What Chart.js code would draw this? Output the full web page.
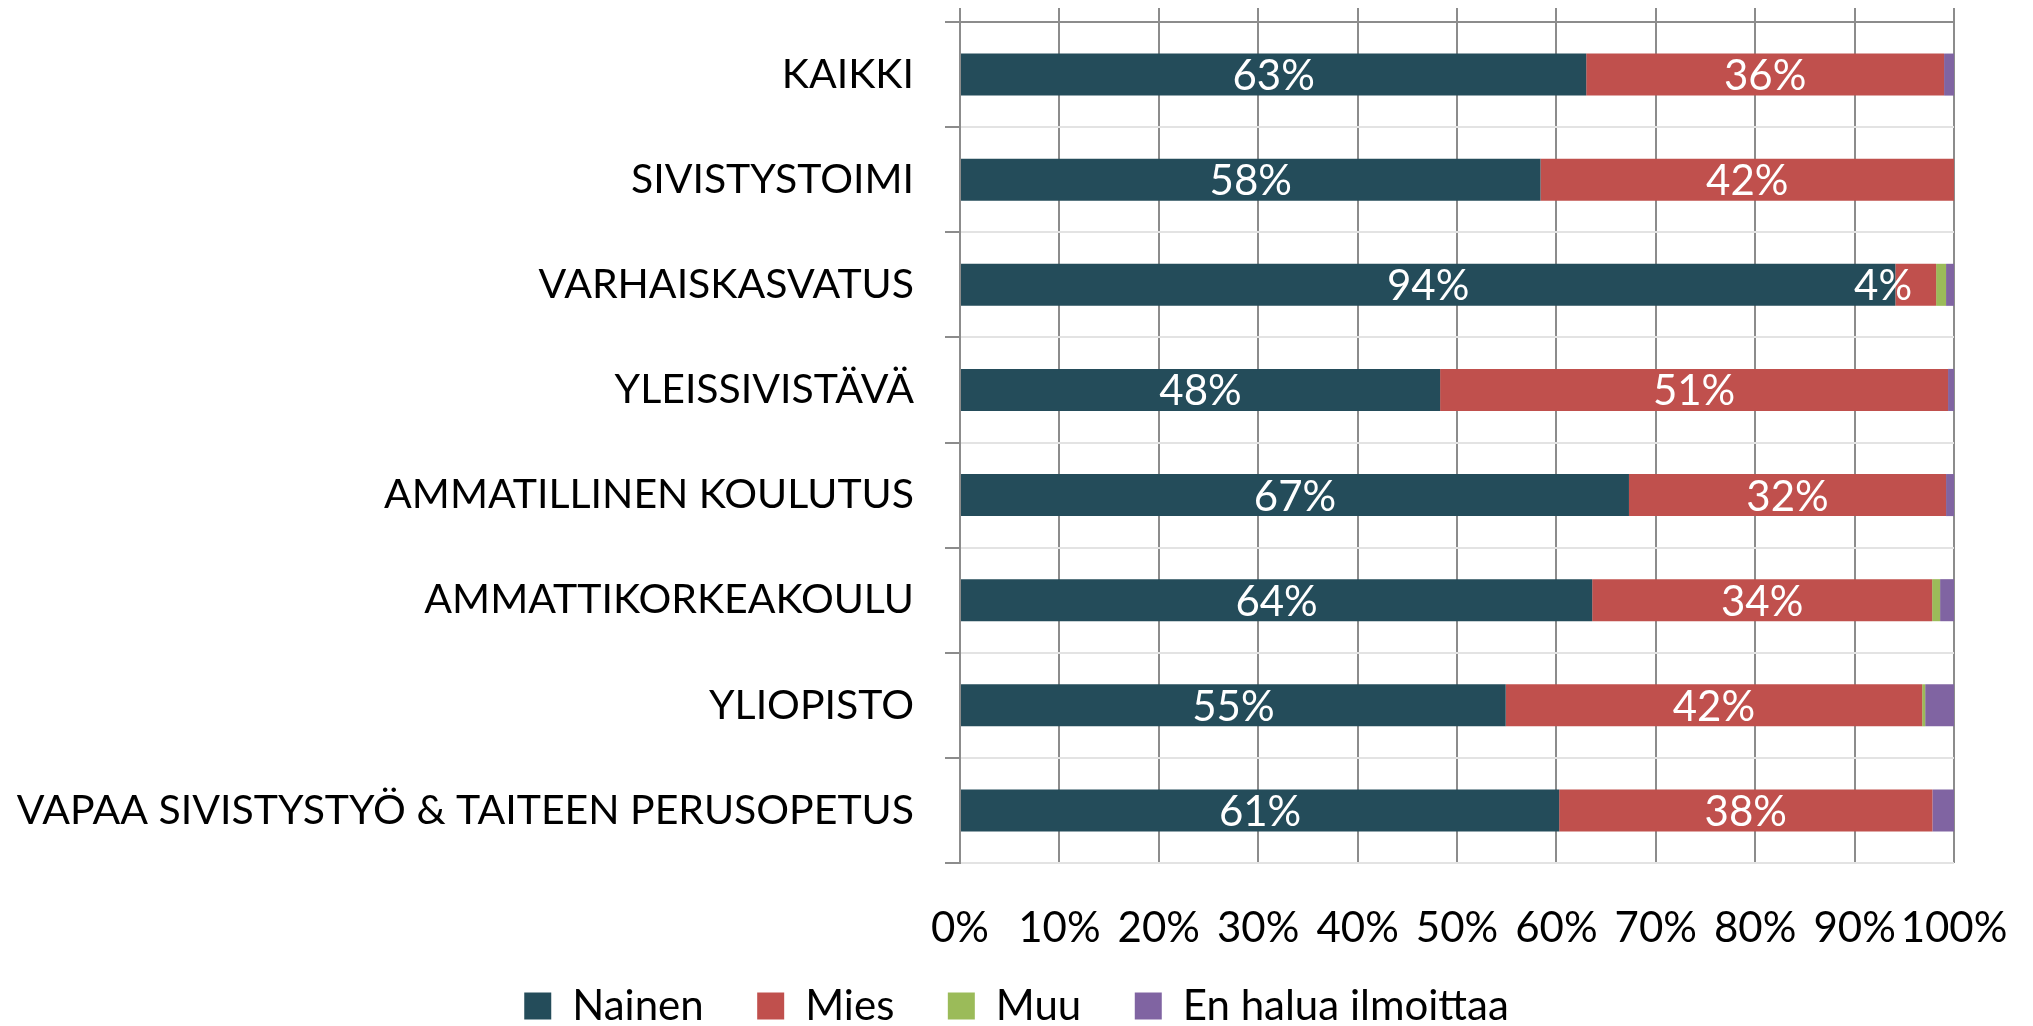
<!DOCTYPE html>
<html>
<head>
<meta charset="utf-8">
<script src="https://cdn.jsdelivr.net/npm/chart.js@4.4.1/dist/chart.umd.min.js"></script>
<style>
  html, body { margin: 0; padding: 0; background: #fff; }
  #wrap { width: 2033px; height: 1026px; }
</style>
</head>
<body>
<div id="wrap"><canvas id="chart" width="2033" height="1026"></canvas></div>
<script>
const categories = [
    'KAIKKI',
    'SIVISTYSTOIMI',
    'VARHAISKASVATUS',
    'YLEISSIVISTÄVÄ',
    'AMMATILLINEN KOULUTUS',
    'AMMATTIKORKEAKOULU',
    'YLIOPISTO',
    'VAPAA SIVISTYSTYÖ & TAITEEN PERUSOPETUS',
];
const seriesNames = ['Nainen', 'Mies', 'Muu', 'En halua ilmoittaa'];
const nainen = [63.0, 58.4, 94.1, 48.3, 67.3, 63.6, 54.9, 61.0];
const mies = [36.0, 41.6, 4.1, 51.1, 31.9, 34.2, 41.9, 38.0];
const muu = [0, 0, 1.0, 0, 0, 0.8, 0.3, 0];
const enHalua = [1.0, 0, 0.8, 0.6, 0.8, 1.4, 2.9, 2.2];
const tickValues = [0, 10, 20, 30, 40, 50, 60, 70, 80, 90, 100];

const colors = ['#244C5A', '#C0504D', '#9BBB59', '#8064A2'];
const FONT = 'Lato, "Open Sans", sans-serif';
const GRID_DARK = '#8c8c8c';
const GRID_LIGHT = '#e3e3e3';

// 100% stacked, like the original: each row is shown as share of its total
const series = [nainen, mies, muu, enHalua];
const rowTotals = categories.map((c, i) => series.reduce((s, arr) => s + arr[i], 0));

const datasets = series.map((arr, k) => ({
    label: seriesNames[k],
    data: arr.map((v, i) => (v / rowTotals[i]) * 100),
    rawValues: arr,
    backgroundColor: colors[k],
    borderWidth: 0,
    categoryPercentage: 1,
    barPercentage: 0.4,
}));

const barLabels = {
    id: 'barLabels',
    afterDatasetsDraw(chart) {
        const { ctx } = chart;
        ctx.save();
        ctx.font = '42px ' + FONT;
        ctx.fillStyle = '#ffffff';
        ctx.textAlign = 'center';
        ctx.textBaseline = 'middle';
        [0, 1].forEach((di) => {
            const meta = chart.getDatasetMeta(di);
            const ds = chart.data.datasets[di];
            meta.data.forEach((bar, i) => {
                const raw = ds.rawValues[i];
                if (raw < 3) return;
                const text = Math.round(raw) + '%';
                const w = ctx.measureText(text).width;
                let cx = (bar.x + bar.base) / 2;
                // too narrow segment: pull the label back towards the bar start
                if (w > Math.abs(bar.x - bar.base)) cx = bar.x - 24 - w / 2;
                ctx.fillText(text, cx, bar.y + 2);
            });
        });
        ctx.restore();
    },
};

const legendLabels = (chart) => {
    const items = Chart.defaults.plugins.legend.labels.generateLabels(chart);
    return items.map((it, i) => (i < items.length - 1 ? { ...it, text: it.text + '  ' } : it));
};

new Chart(document.getElementById('chart'), {
    type: 'bar',
    data: { labels: categories, datasets },
    plugins: [barLabels],
    options: {
        indexAxis: 'y',
        responsive: false,
        animation: false,
        layout: { padding: { top: 8, left: 0, right: 0, bottom: -11 } },
        scales: {
            x: {
                stacked: true,
                min: 0,
                max: 100,
                afterBuildTicks: (scale) => {
                    scale.ticks = tickValues.map((v) => ({ value: v }));
                },
                afterFit: (scale) => {
                    scale.height = 90;
                    scale.paddingLeft = 0;
                    scale.paddingRight = 0;
                },
                grid: { color: GRID_DARK, lineWidth: 2, drawTicks: false },
                border: { display: false },
                ticks: {
                    padding: 40,
                    color: '#000',
                    font: { family: FONT, size: 42 },
                    maxRotation: 0,
                    autoSkip: false,
                    callback: (v) => v + '%',
                },
            },
            x2: {
                position: 'top',
                min: 0,
                max: 100,
                afterBuildTicks: (scale) => {
                    scale.ticks = tickValues.map((v) => ({ value: v }));
                },
                afterFit: (scale) => {
                    scale.paddingLeft = 0;
                    scale.paddingRight = 0;
                },
                grid: {
                    drawOnChartArea: false,
                    color: GRID_DARK,
                    lineWidth: 2,
                    tickLength: 14,
                },
                border: { color: GRID_DARK, width: 2 },
                ticks: { display: false },
            },
            y: {
                stacked: true,
                offset: true,
                afterFit: (scale) => {
                    scale.width = 960;
                    scale.paddingTop = 0;
                    scale.paddingBottom = 0;
                },
                grid: {
                    offset: true,
                    color: GRID_LIGHT,
                    tickColor: GRID_DARK,
                    lineWidth: 2,
                    tickLength: 15,
                },
                border: { color: GRID_DARK, width: 2 },
                ticks: {
                    padding: 31,
                    color: '#000',
                    font: { family: FONT, size: 41 },
                    autoSkip: false,
                },
            },
            // empty right-hand gutter, so the legend stays centred on the page
            yRight: {
                position: 'right',
                afterFit: (scale) => {
                    scale.width = 79;
                    scale.paddingTop = 0;
                    scale.paddingBottom = 0;
                },
                grid: { display: false },
                border: { display: false },
                ticks: { display: false },
            },
        },
        plugins: {
            legend: {
                position: 'bottom',
                labels: {
                    boxWidth: 27,
                    boxHeight: 27,
                    padding: 32,
                    color: '#000',
                    font: { family: FONT, size: 42 },
                    generateLabels: legendLabels,
                },
            },
            tooltip: { enabled: false },
        },
    },
});
</script>
</body>
</html>
